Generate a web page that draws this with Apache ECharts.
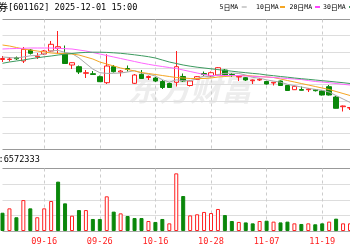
<!DOCTYPE html>
<html><head><meta charset="utf-8">
<script src="https://cdn.jsdelivr.net/npm/echarts/dist/echarts.min.js"></script>
<style>html,body{margin:0;padding:0;background:#fff}#c{width:350px;height:250px}</style>
</head><body><div id="c"></div>
<script>
const dates = ['09-08','09-09','09-10','09-11','09-12','09-15','09-16','09-17','09-18','09-19',
  '09-22','09-23','09-24','09-25','09-26','09-29','09-30','10-09','10-10','10-13',
  '10-14','10-15','10-16','10-17','10-20','10-21','10-22','10-23','10-24','10-27',
  '10-28','10-29','10-30','10-31','11-03','11-04','11-05','11-06','11-07','11-10',
  '11-11','11-12','11-13','11-14','11-17','11-18','11-19','11-20','11-21','11-24','11-25'];
const opens = [5.775,5.775,5.792,5.76,5.87,5.80,5.83,5.86,5.887,5.83,5.72,5.703,5.637,5.633,5.603,5.543,5.703,5.65,5.685,5.537,5.627,5.595,5.59,5.555,5.535,5.547,5.605,5.515,5.577,5.635,5.61,5.62,5.67,5.625,5.60,5.593,5.563,5.57,5.555,5.54,5.56,5.515,5.473,5.475,5.473,5.473,5.46,5.503,5.40,5.303,5.29];
const closes = [5.785,5.78,5.782,5.877,5.837,5.807,5.86,5.927,5.903,5.735,5.743,5.65,5.643,5.625,5.553,5.71,5.653,5.66,5.675,5.62,5.585,5.605,5.56,5.495,5.495,5.703,5.56,5.56,5.603,5.625,5.643,5.693,5.615,5.617,5.607,5.57,5.57,5.577,5.53,5.547,5.515,5.465,5.507,5.467,5.48,5.463,5.42,5.42,5.287,5.31,5.295];
const lows = [5.75,5.755,5.77,5.74,5.825,5.78,5.82,5.85,5.83,5.73,5.68,5.63,5.59,5.62,5.55,5.53,5.645,5.605,5.655,5.53,5.58,5.57,5.55,5.48,5.49,5.505,5.55,5.505,5.57,5.61,5.60,5.61,5.61,5.60,5.56,5.56,5.53,5.56,5.525,5.515,5.51,5.46,5.47,5.465,5.45,5.455,5.415,5.415,5.285,5.255,5.27];
const highs = [5.81,5.80,5.805,5.90,5.88,5.84,5.87,5.96,6.06,5.915,5.747,5.715,5.67,5.66,5.615,5.827,5.72,5.67,5.715,5.63,5.67,5.615,5.60,5.57,5.545,5.86,5.635,5.57,5.61,5.655,5.655,5.70,5.68,5.64,5.61,5.60,5.575,5.587,5.56,5.55,5.565,5.52,5.515,5.505,5.49,5.48,5.47,5.52,5.41,5.315,5.30];
const ma5 = [5.80,5.795,5.79,5.80,5.812,5.816,5.832,5.861,5.866,5.846,5.834,5.792,5.735,5.679,5.643,5.636,5.637,5.64,5.65,5.664,5.639,5.629,5.609,5.573,5.548,5.572,5.563,5.563,5.584,5.61,5.598,5.625,5.636,5.639,5.635,5.62,5.596,5.588,5.571,5.559,5.548,5.527,5.513,5.50,5.487,5.476,5.467,5.45,5.414,5.38,5.346];
const ma10 = [5.92,5.91,5.895,5.88,5.87,5.86,5.85,5.84,5.835,5.835,5.83,5.82,5.80,5.78,5.75,5.73,5.71,5.69,5.675,5.66,5.645,5.635,5.625,5.615,5.605,5.595,5.59,5.585,5.585,5.585,5.59,5.60,5.605,5.61,5.615,5.615,5.61,5.605,5.60,5.595,5.58,5.565,5.55,5.535,5.52,5.505,5.49,5.475,5.455,5.435,5.415];
const ma20 = [5.88,5.883,5.885,5.887,5.89,5.89,5.89,5.89,5.887,5.883,5.88,5.87,5.86,5.845,5.83,5.815,5.80,5.785,5.77,5.755,5.74,5.727,5.715,5.705,5.695,5.685,5.67,5.655,5.64,5.625,5.615,5.615,5.615,5.615,5.615,5.61,5.607,5.603,5.60,5.595,5.59,5.585,5.58,5.575,5.565,5.555,5.55,5.543,5.535,5.527,5.52];
const ma30 = [5.737,5.75,5.76,5.77,5.782,5.792,5.802,5.81,5.82,5.828,5.835,5.842,5.846,5.848,5.848,5.846,5.842,5.837,5.83,5.822,5.813,5.803,5.79,5.77,5.75,5.735,5.72,5.708,5.698,5.69,5.682,5.674,5.666,5.658,5.65,5.643,5.636,5.63,5.62,5.613,5.605,5.598,5.59,5.583,5.577,5.57,5.563,5.557,5.55,5.543,5.535];
const volumes = [11700000,14500000,8800000,19800000,14500000,8800000,14500000,19200000,31600000,17700000,9800000,13400000,13400000,7700000,7700000,22200000,12400000,11300000,9600000,8300000,8300000,6400000,5800000,7700000,4900000,36900000,22400000,10000000,10700000,12200000,11500000,14100000,10200000,6400000,5800000,5500000,4900000,6400000,6600000,6000000,5500000,6000000,4900000,4500000,4900000,4300000,4900000,6000000,7900000,4900000,4900000];
const volUp = [0,1,0,1,0,1,1,1,0,0,1,0,1,0,0,1,0,1,0,0,0,1,0,0,1,1,0,1,1,1,1,1,0,0,1,0,0,1,0,1,0,0,1,0,1,0,0,1,0,1,1];
const stockName = '天风证券';
const titleRest = '[601162] 2025-12-01 15:00';
const volName = '成交量';
const volRest = ':6572333';
const maNums = ['5','10','20','30'];
const maNames = maNums.map(n => n + '日MA');
const maColors = ['#aaaaaa','#f5a623','#ff66ff','#3c9a5f'];
const legendIconColors = ['#cfcfcf','#f5a623','#ff44ff','#3c9a5f'];
const watermark = '东方财富';

const RED = '#ff2020', GREEN = '#0a870a';
const MONO = '"DejaVu Sans Mono", "Liberation Mono", monospace';
const CJK = '"Noto Sans CJK SC", sans-serif';
const labelEvery = (i) => (i - 6) % 8 === 0;
const chart = echarts.init(document.getElementById('c'), null, {renderer: 'canvas'});
const kData = opens.map((o, i) => [o, closes[i], lows[i], highs[i]]);
const vData = volumes.map((v, i) => ({value: v, itemStyle: volUp[i] ? {color: '#fff', borderColor: RED, borderWidth: 1} : {color: GREEN, borderColor: GREEN, borderWidth: 1}}));
const gl = 2.5, gr = -1.3;

// legend laid out by hand: label, then a short colour dash
const legendX = [219.5, 256, 289.5, 323];
const legendIconX = [241.7, 280, 315, 349];
const legendGraphics = [];
maNums.forEach((n, k) => {
  legendGraphics.push({type: 'text', x: legendX[k], y: 7.5, z: 10, style: {
    text: '{m|' + n + '}{c|日}{m|MA}',
    rich: {m: {fontSize: 6.5, fontFamily: MONO, fill: '#000'}, c: {fontSize: 7, fontFamily: CJK, fill: '#000'}},
    textVerticalAlign: 'middle'}});
  legendGraphics.push({type: 'rect', z: 10, shape: {x: legendIconX[k], y: 6, width: 5, height: 2},
    style: {fill: legendIconColors[k]}});
});

chart.setOption({
  animation: false,
  backgroundColor: '#fff',
  graphic: [
    {type: 'text', x: -33.2, y: 7.5, z: 10, style: {
      text: '{c|' + stockName + '}{m|' + titleRest + '}',
      rich: {c: {fontSize: 10.3, fontFamily: CJK, fill: '#000'}, m: {fontSize: 8.6, fontFamily: MONO, fill: '#000'}},
      textVerticalAlign: 'middle'}},
    {type: 'text', x: -32.4, y: 160, z: 10, style: {
      text: '{c|' + volName + '}{m|' + volRest + '}',
      rich: {c: {fontSize: 10.3, fontFamily: CJK, fill: '#000'}, m: {fontSize: 8.6, fontFamily: MONO, fill: '#000'}},
      textVerticalAlign: 'middle'}},
    {type: 'text', x: 128, y: 89, z: 0, style: {text: watermark, fontSize: 31, fontWeight: 'bold', fontStyle: 'italic', fontFamily: CJK, fill: '#ededed', textVerticalAlign: 'middle'}},
    ...legendGraphics
  ],
  grid: [
    {left: gl, right: gr, top: 19.5, height: 130},
    {left: gl, right: gr, top: 168.5, height: 62.5}
  ],
  xAxis: [
    {type: 'category', gridIndex: 0, data: dates, boundaryGap: false,
     axisLine: {show: false}, axisTick: {show: false}, axisLabel: {show: false},
     splitLine: {show: true, interval: labelEvery, lineStyle: {color: '#cccccc', type: [3, 3], width: 1}}},
    {type: 'category', gridIndex: 1, data: dates, boundaryGap: false,
     axisLine: {show: false}, axisTick: {show: false},
     axisLabel: {show: true, interval: labelEvery, color: RED, fontSize: 8.6, fontFamily: MONO, margin: 6},
     splitLine: {show: true, interval: labelEvery, lineStyle: {color: '#cccccc', type: [3, 3], width: 1}}}
  ],
  yAxis: [
    {type: 'value', gridIndex: 0, min: 4.875, max: 6.175, interval: 0.1625, scale: true,
     axisLine: {show: false}, axisTick: {show: false}, axisLabel: {show: false},
     splitLine: {show: true, lineStyle: {color: ['#999','#dddddd','#dddddd','#dddddd','#dddddd','#dddddd','#dddddd','#dddddd','#999'], width: 1}}},
    {type: 'value', gridIndex: 1, min: 0, max: 40000000, interval: 10000000,
     axisLine: {show: false}, axisTick: {show: false}, axisLabel: {show: false},
     splitLine: {show: true, lineStyle: {color: ['#aaa','#dddddd','#dddddd','#dddddd','#999'], width: 1}}}
  ],
  series: [
    {type: 'candlestick', xAxisIndex: 0, yAxisIndex: 0, data: kData, barWidth: 5, clip: false,
     itemStyle: {color: '#fff', color0: GREEN, borderColor: RED, borderColor0: GREEN, borderWidth: 1}},
    {type: 'bar', xAxisIndex: 1, yAxisIndex: 1, data: vData, barWidth: 4, clip: false},
    ...[ma5, ma10, ma20, ma30].map((d, k) => ({
      name: maNames[k], type: 'line', xAxisIndex: 0, yAxisIndex: 0, data: d, symbol: 'none', clip: false,
      lineStyle: {width: 1, color: maColors[k]}, itemStyle: {color: maColors[k]}, z: 3
    }))
  ]
});
</script></body></html>
